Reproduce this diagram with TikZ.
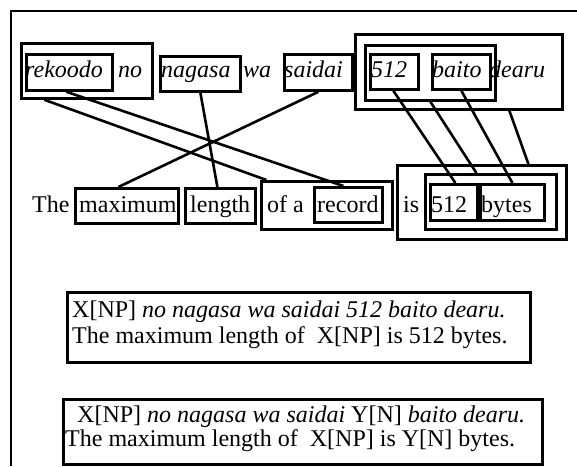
\documentclass[tikz,border=0pt]{standalone}
\usepackage{fontspec}
\setmainfont{Liberation Serif}
\begin{document}
\begin{tikzpicture}[x=1pt,y=-1pt,
  bx/.style={draw, line width=2.8pt, inner sep=0pt, anchor=north west},
  wd/.style={anchor=base west, inner sep=0pt, font=\fontsize{24}{26}\selectfont},
  jw/.style={wd, font=\fontsize{24}{26}\selectfont\itshape},
  link/.style={line width=2.6pt}]
\useasboundingbox (0,0) rectangle (577,466);

% frame
\draw[line width=2.8pt] (577,11) -| (11,466);

% Japanese phrase: boxes
\node[bx, minimum width=131, minimum height=55] (rekno) at (20,42) {};
\node[bx, minimum width=86,  minimum height=36] (rek)   at (25,53) {};
\node[bx, minimum width=80,  minimum height=35] (nag)   at (159,55) {};
\node[bx, minimum width=68,  minimum height=36] (sai)   at (283,53) {};
\node[bx, minimum width=207, minimum height=75] (jbig)  at (354,33) {};
\node[bx, minimum width=130, minimum height=55] (jin)   at (364,44) {};
\node[bx, minimum width=48,  minimum height=35] (jnum)  at (369,53) {};
\node[bx, minimum width=58,  minimum height=35] (jbai)  at (431,53) {};

% Japanese phrase: words
\node[jw] (tre)  at (25,77)  {rekoodo};
\node[jw] (tno)  at (118,77) {no};
\node[jw] (tnag) at (161,77) {nagasa};
\node[jw] (twa)  at (243,77) {wa};
\node[jw] (tsai) at (284,77) {saidai};
\node[jw] (tnum) at (371,77) {512};
\node[jw] (tbai) at (432,77) {baito};
\node[jw] (tdea) at (489,77) {dearu};

% English phrase: boxes
\node[bx, minimum width=103, minimum height=35] (max)  at (74,187) {};
\node[bx, minimum width=70,  minimum height=35] (len)  at (184,187) {};
\node[bx, minimum width=131, minimum height=48] (ofa)  at (260,180) {};
\node[bx, minimum width=68,  minimum height=35] (rec)  at (313,186) {};
\node[bx, minimum width=169, minimum height=74] (ebig) at (396,164) {};
\node[bx, minimum width=131, minimum height=55] (ein)  at (424,173) {};
\node[bx, minimum width=47,  minimum height=36] (enum) at (429,183) {};
\node[bx, minimum width=64,  minimum height=36] (ebyt) at (479,183) {};

% English phrase: words
\node[wd] (tthe) at (32,212)  {The};
\node[wd] (tmax) at (79,212)  {maximum};
\node[wd] (tlen) at (190,212) {length};
\node[wd] (tofa) at (267,212) {of a};
\node[wd] (trec) at (317,212) {record};
\node[wd] (tis)  at (403,212) {is};
\node[wd] (tenu) at (431,212) {512};
\node[wd] (tbyt) at (481,212) {bytes};

% alignment links
\draw[link] ([xshift=-42.5pt]rekno.south) -- ([xshift=-60.5pt]ofa.north);
\draw[link] ([xshift=-3pt]rek.south) -- ([xshift=-5pt]rec.north);
\draw[link] (nag.south) -- ([xshift=-3pt]len.north);
\draw[link] (sai.south) -- ([xshift=-8.5pt]max.north);
\draw[link] ([xshift=-1pt]jnum.south) -- ([xshift=1.5pt]enum.north);
\draw[link] (jin.south) -- ([xshift=-14.5pt]ein.north);
\draw[link] (jbai.south) -- (ebyt.north);
\draw[link] ([xshift=50.5pt]jbig.south) -- ([xshift=46.5pt]ebig.north);

% templates
\node[bx, minimum width=463, minimum height=70] (tpa) at (66,291) {};
\node[wd] (tpa1) at (72,317) {X[NP] \textit{no nagasa wa saidai 512 baito dearu.}};
\node[wd] (tpa2) at (72,343) {The maximum length of\ \ X[NP] is 512 bytes.};

\node[bx, minimum width=479, minimum height=65] (tpb) at (62,398) {};
\node[wd] (tpb1) at (77,422) {X[NP] \textit{no nagasa wa saidai} Y[N] \textit{baito dearu.}};
\node[wd] (tpb2) at (65,446) {The maximum length of\ \ X[NP] is Y[N] bytes.};
\end{tikzpicture}
\end{document}
